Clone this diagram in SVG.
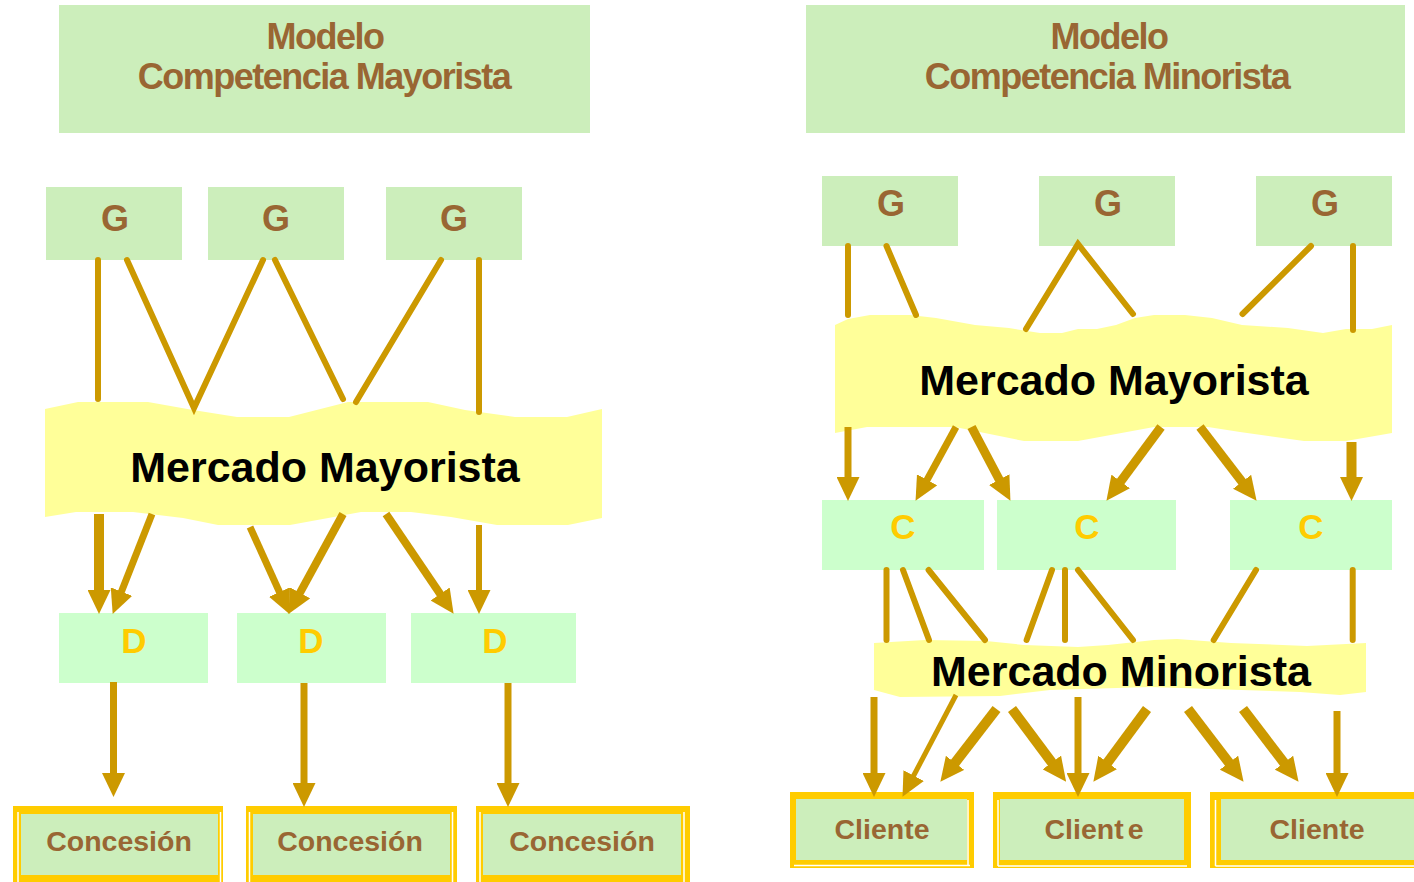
<svg xmlns="http://www.w3.org/2000/svg" width="1414" height="882" viewBox="0 0 1414 882">
<style>
.title{fill:#CCEEBB}
.g{fill:#CCEEBB}
.dc{fill:#CCFFCC}
.mk{fill:#FFFF99}
.brown{font-family:"Liberation Sans",Arial,sans-serif;font-weight:bold;fill:#996633;text-anchor:middle}
.tt{font-size:36px;letter-spacing:-1.5px}
.gl{font-size:36px}
.yl{font-family:"Liberation Sans",Arial,sans-serif;font-weight:bold;fill:#FFCC00;text-anchor:middle;font-size:35px}
.mt{font-family:"Liberation Sans",Arial,sans-serif;font-weight:bold;fill:#000;text-anchor:middle;font-size:43px}
.bx{font-size:28.5px}
.frame{fill:#FFCC00}
.wl{stroke:#FFFFFF;stroke-width:1.5;fill:none}
.ln{stroke:#CC9900;stroke-width:6;stroke-linecap:round;fill:none}
.ar{stroke:#CC9900;fill:none;marker-end:url(#ah)}
</style>
<defs>
<marker id="ah" viewBox="0 0 24 23" refX="1" refY="11.5" markerWidth="24" markerHeight="23" markerUnits="userSpaceOnUse" orient="auto">
<path d="M0,0 L24,11.5 L0,23 z" fill="#CC9900"/>
</marker>
</defs>
<rect width="1414" height="882" fill="#FFFFFF"/>

<!-- Left side -->
<g id="title-left">
<rect class="title" x="59" y="5" width="531" height="128"/>
<text class="brown tt" x="325" y="49">Modelo</text>
<text class="brown tt" x="324" y="89">Competencia Mayorista</text>
</g>
<g id="gL1"><rect class="g" x="46" y="187" width="136" height="73"/><text class="brown gl" x="115" y="231">G</text></g>
<g id="gL2"><rect class="g" x="208" y="187" width="136" height="73"/><text class="brown gl" x="276" y="231">G</text></g>
<g id="gL3"><rect class="g" x="386" y="187" width="136" height="73"/><text class="brown gl" x="454" y="231">G</text></g>

<g id="mercado-mayorista-left">
<path class="mk" d="M45,409 L78,402 L148,402 L193,410 L237,417 L289,417 L348,402 L428,402 L465,410 L515,417 L567,417 L602,409 L602,518 L568,525 L497,525 L451,517 L411,512 L361,512 L290,525 L218,525 L183,518 L133,512 L76,512 L45,517 Z"/>
<text class="mt" x="325" y="482">Mercado Mayorista</text>
</g>

<g id="d1"><rect class="dc" x="59" y="613" width="149" height="70"/><text class="yl" x="134" y="653">D</text></g>
<g id="d2"><rect class="dc" x="237" y="613" width="149" height="70"/><text class="yl" x="311" y="653">D</text></g>
<g id="d3"><rect class="dc" x="411" y="613" width="165" height="70"/><text class="yl" x="495" y="653">D</text></g>

<g id="concesion1">
<rect class="frame" x="13" y="806" width="210" height="76"/>
<rect class="dc" x="21" y="814" width="197" height="61" style="fill:#CCEEBB"/>
<path class="wl" d="M18,812 V882 M220.5,812 V882"/>
<text class="brown bx" x="119" y="851">Concesión</text>
</g>
<g id="concesion2">
<rect class="frame" x="246" y="806" width="211" height="76"/>
<rect class="dc" x="253" y="814" width="197" height="61" style="fill:#CCEEBB"/>
<path class="wl" d="M249.5,812 V882 M452.5,812 V882"/>
<text class="brown bx" x="350" y="851">Concesión</text>
</g>
<g id="concesion3">
<rect class="frame" x="476" y="806" width="214" height="76"/>
<rect class="dc" x="483" y="814" width="198" height="61" style="fill:#CCEEBB"/>
<path class="wl" d="M480,812 V882 M684,812 V882"/>
<text class="brown bx" x="582" y="851">Concesión</text>
</g>

<!-- Right side -->
<g id="title-right">
<rect class="title" x="806" y="5" width="599" height="128"/>
<text class="brown tt" x="1109" y="49">Modelo</text>
<text class="brown tt" x="1107" y="89">Competencia Minorista</text>
</g>
<g id="gR1"><rect class="g" x="822" y="176" width="136" height="70"/><text class="brown gl" x="891" y="216">G</text></g>
<g id="gR2"><rect class="g" x="1039" y="176" width="136" height="70"/><text class="brown gl" x="1108" y="216">G</text></g>
<g id="gR3"><rect class="g" x="1256" y="176" width="136" height="70"/><text class="brown gl" x="1325" y="216">G</text></g>

<g id="mercado-mayorista-right">
<path class="mk" d="M835,325 L848,319 L870,315 L910,315 L936,318 L975,325 L1009,328 L1040,333 L1062,333 L1078,329 L1097,329 L1116,325 L1135,318 L1154,315 L1185,315 L1212,318 L1242,325 L1288,328 L1323,333 L1346,329 L1372,329 L1392,325 L1392,433 L1346,441 L1304,441 L1240,432 L1208,427 L1154,427 L1078,441 L1024,441 L955,427 L867,427 L835,433 Z"/>
<text class="mt" x="1114" y="395">Mercado Mayorista</text>
</g>

<g id="c1"><rect class="dc" x="822" y="500" width="162" height="70"/><text class="yl" x="903" y="539">C</text></g>
<g id="c2"><rect class="dc" x="997" y="500" width="179" height="70"/><text class="yl" x="1087" y="539">C</text></g>
<g id="c3"><rect class="dc" x="1230" y="500" width="162" height="70"/><text class="yl" x="1311" y="539">C</text></g>

<g id="mercado-minorista">
<path class="mk" d="M874,643 L925,640 L986,641 L1024,645 L1078,647 L1108,645 L1154,640 L1177,639 L1231,643 L1307,646 L1366,643 L1366,692 L1340,695 L1300,692 L1150,687 L1050,690 L1000,696 L900,697 L874,690 Z"/>
<text class="mt" x="1121" y="686">Mercado Minorista</text>
</g>

<g id="cliente1">
<rect class="frame" x="790" y="792" width="184" height="76"/>
<rect x="796" y="799" width="171" height="61" fill="#CCEEBB"/>
<path class="wl" d="M794,865.5 H970 M968,800 V865.5"/>
<text class="brown bx" x="882" y="839">Cliente</text>
</g>
<g id="cliente2">
<rect class="frame" x="993" y="792" width="198" height="76"/>
<rect x="1000" y="799" width="184" height="61" fill="#CCEEBB"/>
<path class="wl" d="M998,800 V866 M998,866 H1187"/>
<text class="brown bx" x="1094" y="839">Client<tspan dx="4">e</tspan></text>
</g>
<g id="cliente3">
<rect class="frame" x="1210" y="792" width="210" height="76"/>
<rect x="1221" y="799" width="200" height="61" fill="#CCEEBB"/>
<path class="wl" d="M1215.5,800 V866 M1215.5,866 H1414"/>
<text class="brown bx" x="1317" y="839">Cliente</text>
</g>

<!-- Connectors -->
<g id="connectors">
<!-- left G to Mercado Mayorista -->
<path class="ln" d="M98,260 V399"/>
<path class="ln" d="M127,260 L194,408 L263,260"/>
<path class="ln" d="M275,260 L343,399"/>
<path class="ln" d="M441,260 L356,402"/>
<path class="ln" d="M479,260 V412"/>
<!-- left Mercado to D -->
<line class="ar" x1="99" y1="514" x2="99" y2="591" stroke-width="10"/>
<line class="ar" x1="152" y1="514" x2="121.1" y2="592.5" stroke-width="7"/>
<line class="ar" x1="250" y1="527" x2="279.9" y2="593" stroke-width="7"/>
<line class="ar" x1="343" y1="514" x2="299.5" y2="593.7" stroke-width="8"/>
<line class="ar" x1="386" y1="514" x2="440.7" y2="594.8" stroke-width="8"/>
<line class="ar" x1="479" y1="525" x2="479" y2="591" stroke-width="6"/>
<!-- D to Concesion -->
<line class="ar" x1="113.5" y1="682" x2="113.5" y2="774" stroke-width="7"/>
<line class="ar" x1="304" y1="683" x2="304" y2="784" stroke-width="7"/>
<line class="ar" x1="508" y1="683" x2="508" y2="784" stroke-width="7"/>
<!-- right G to Mercado Mayorista -->
<path class="ln" d="M848,246 V315"/>
<path class="ln" d="M886.5,246 L916,315"/>
<path class="ln" d="M1026,329 L1078,244 L1133,314"/>
<path class="ln" d="M1311,246 L1242.5,314"/>
<path class="ln" d="M1353,246 V330"/>
<!-- right Mercado Mayorista to C -->
<line class="ar" x1="848" y1="427" x2="848" y2="478" stroke-width="7"/>
<line class="ar" x1="956" y1="427" x2="926.6" y2="480.7" stroke-width="7"/>
<line class="ar" x1="971.5" y1="427" x2="999.7" y2="480.5" stroke-width="9"/>
<line class="ar" x1="1161" y1="427" x2="1120.1" y2="482.3" stroke-width="9"/>
<line class="ar" x1="1200" y1="427" x2="1242.6" y2="482.6" stroke-width="9"/>
<line class="ar" x1="1351.5" y1="442" x2="1351.5" y2="478" stroke-width="10"/>
<!-- C to Mercado Minorista -->
<path class="ln" d="M886.5,570 V640"/>
<path class="ln" d="M903,570 L929,640"/>
<path class="ln" d="M928.6,570 L985,640"/>
<path class="ln" d="M1052,570 L1026.6,640"/>
<path class="ln" d="M1065,570 V640"/>
<path class="ln" d="M1078,570 L1133,640"/>
<path class="ln" d="M1256,570 L1213.7,640"/>
<path class="ln" d="M1352.7,570 V640"/>
<!-- Mercado Minorista to Cliente -->
<line class="ar" x1="874" y1="697" x2="874" y2="774" stroke-width="7"/>
<line class="ar" x1="956" y1="695" x2="913.2" y2="776.5" stroke-width="5"/>
<line class="ar" x1="996.5" y1="709" x2="954.4" y2="763.6" stroke-width="10"/>
<line class="ar" x1="1012" y1="709" x2="1052.4" y2="763.3" stroke-width="10"/>
<line class="ar" x1="1078" y1="697" x2="1078" y2="774" stroke-width="7"/>
<line class="ar" x1="1147" y1="709" x2="1107" y2="763.3" stroke-width="10"/>
<line class="ar" x1="1188" y1="709" x2="1229.6" y2="763.5" stroke-width="10"/>
<line class="ar" x1="1243" y1="709" x2="1284.6" y2="763.5" stroke-width="10"/>
<line class="ar" x1="1337" y1="711" x2="1337" y2="774" stroke-width="7"/>
</g>
</svg>
